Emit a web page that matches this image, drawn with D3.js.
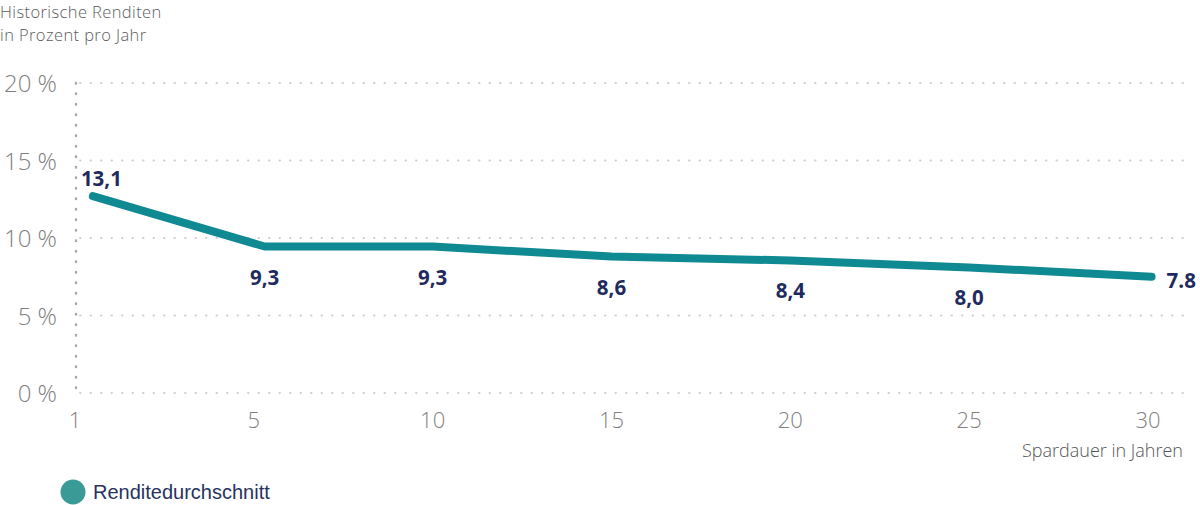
<!DOCTYPE html>
<html>
<head>
<meta charset="utf-8">
<script src="https://cdn.jsdelivr.net/npm/d3@7"></script>
<style>
  body { margin: 0; background: #fff; }
  svg text { font-family: "Open Sans", sans-serif; }
</style>
</head>
<body>
<div id="chart"></div>
<script>
// tick categories on the x axis (Spardauer in Jahren)
const years = [1, 5, 10, 15, 20, 25, 30];
// y ticks in percent
const yTicks = [0, 5, 10, 15, 20];
// where the line sits (years / percent)
const lineYears = [1.4, 5.3, 10, 15, 20, 25, 30.1];
const lineValues = [12.7, 9.45, 9.45, 8.8, 8.55, 8.1, 7.5];
// printed labels next to the points
const pointLabels = ["13,1", "9,3", "9,3", "8,6", "8,4", "8,0", "7.8"];

const width = 1200, height = 505;
const margin = {top: 83, right: 8, bottom: 110, left: 76};

const svg = d3.select("#chart")
  .append("svg")
  .attr("width", width)
  .attr("height", height);

// x ticks are evenly spaced even though the years are not
const tickX = d3.scalePoint()
  .domain(years)
  .range([75, 1148]);

const x = d3.scaleLinear()
  .domain(years)
  .range(years.map(d => tickX(d)));

const y = d3.scaleLinear()
  .domain([0, 20])
  .range([height - margin.bottom - 2, margin.top]);

// title, two lines
svg.append("g")
  .selectAll("text")
  .data(["Historische Renditen", "in Prozent pro Jahr"])
  .join("text")
    .attr("x", 0)
    .attr("y", (d, i) => 18 + i * 22.5)
    .attr("fill", "#5c5c5c")
    .attr("font-size", 16.5)
    .attr("font-weight", 300)
    .attr("letter-spacing", 0.4)
    .text(d => d);

// dotted grid lines
svg.append("g")
  .selectAll("line")
  .data(yTicks)
  .join("line")
    .attr("x1", margin.left + 4)
    .attr("x2", width - margin.right)
    .attr("y1", d => y(d))
    .attr("y2", d => y(d))
    .attr("stroke", "#d0d0d0")
    .attr("stroke-width", 2)
    .attr("stroke-linecap", "round")
    .attr("stroke-dasharray", "0.5,10");

// dotted y axis line
svg.append("line")
  .attr("x1", margin.left)
  .attr("x2", margin.left)
  .attr("y1", y(20))
  .attr("y2", y(0))
  .attr("stroke", "#a8a8a8")
  .attr("stroke-width", 2.5)
  .attr("stroke-linecap", "round")
  .attr("stroke-dasharray", "0.5,10");

// y tick labels
svg.append("g")
  .selectAll("text")
  .data(yTicks)
  .join("text")
    .attr("x", 57)
    .attr("y", d => y(d) + 9)
    .attr("text-anchor", "end")
    .attr("fill", "#7f7f7f")
    .attr("font-size", 24)
    .attr("font-weight", 300)
    .text(d => d + " %");

// x tick labels
svg.append("g")
  .selectAll("text")
  .data(years)
  .join("text")
    .attr("x", d => tickX(d))
    .attr("y", 428)
    .attr("text-anchor", "middle")
    .attr("fill", "#7f7f7f")
    .attr("font-size", 22)
    .attr("font-weight", 300)
    .text(d => d);

svg.append("text")
  .attr("x", 1183)
  .attr("y", 457)
  .attr("text-anchor", "end")
  .attr("fill", "#555")
  .attr("font-size", 18)
  .attr("font-weight", 300)
  .text("Spardauer in Jahren");

// the line
const points = lineYears.map((d, i) => ({
  yr: d, value: lineValues[i], label: pointLabels[i], i: i
}));

const line = d3.line()
  .x(d => x(d.yr))
  .y(d => y(d.value));

svg.append("path")
  .datum(points)
  .attr("d", line)
  .attr("fill", "none")
  .attr("stroke", "#0f8a92")
  .attr("stroke-width", 8)
  .attr("stroke-linecap", "round")
  .attr("stroke-linejoin", "round");

// point labels: first above, last to the right, rest below
const last = points.length - 1;
svg.append("g")
  .selectAll("text")
  .data(points)
  .join("text")
    .attr("x", d => d.i === 0 ? x(d.yr) - 12 : d.i === last ? x(d.yr) + 15 : x(d.yr))
    .attr("y", d => d.i === 0 ? y(d.value) - 10 : d.i === last ? y(d.value) + 11 : y(d.value) + 38)
    .attr("text-anchor", d => d.i === 0 || d.i === last ? "start" : "middle")
    .attr("fill", "#1f2b5e")
    .attr("font-size", 20.5)
    .attr("font-weight", 700)
    .text(d => d.label);

// legend
const legend = svg.append("g");
legend.append("circle")
  .attr("cx", 73)
  .attr("cy", 492)
  .attr("r", 12.5)
  .attr("fill", "#3a9a96");
legend.append("text")
  .attr("x", 93)
  .attr("y", 499)
  .attr("fill", "#27335f")
  .attr("font-size", 20)
  .style("font-family", "'Liberation Sans', Arial, sans-serif")
  .text("Renditedurchschnitt");
</script>
</body>
</html>
